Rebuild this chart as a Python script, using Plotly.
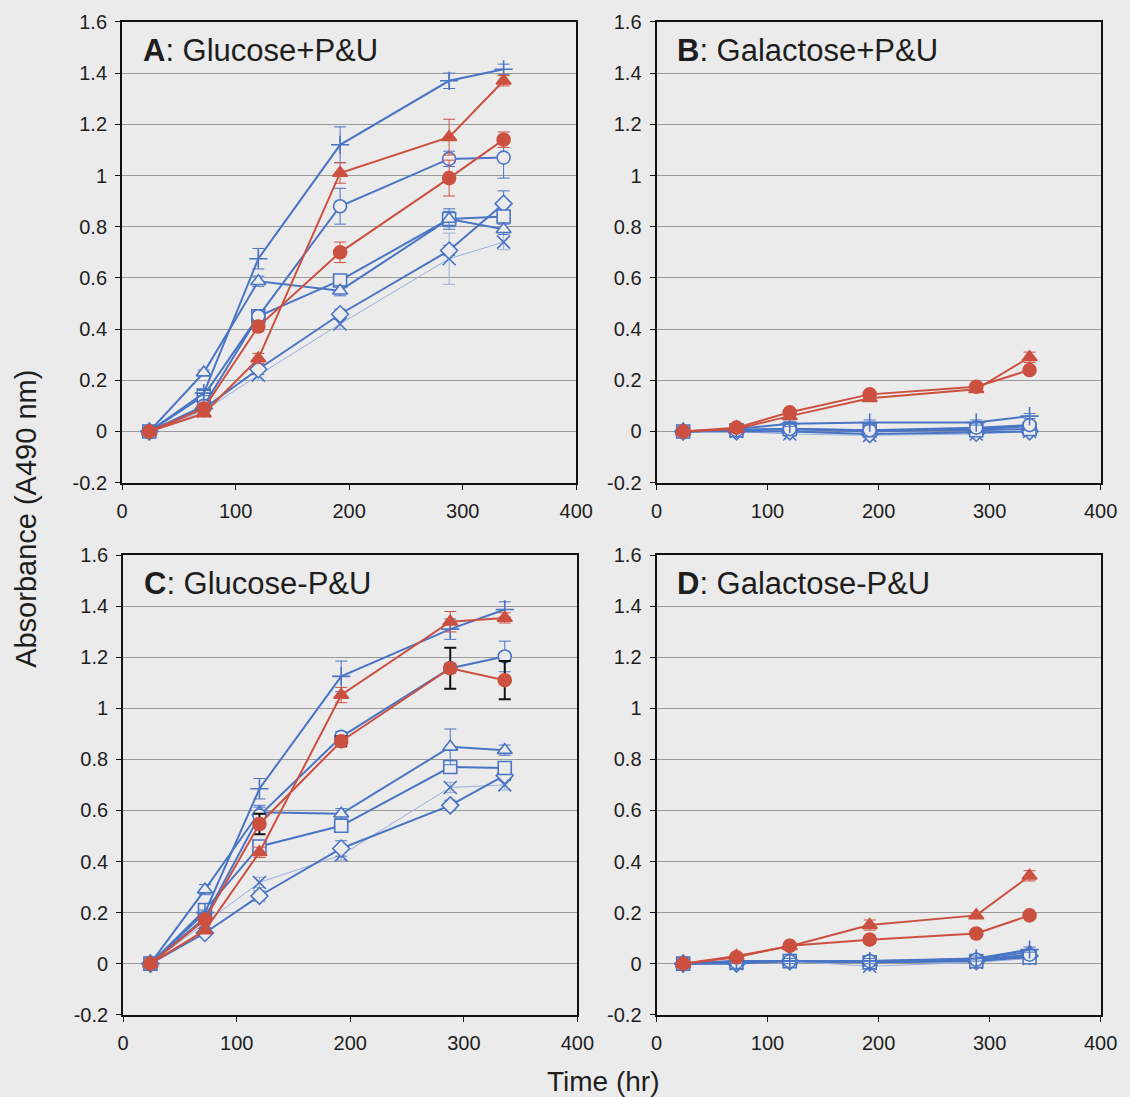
import plotly.graph_objects as go

# sampling times (hr)
time_hr = [24, 72, 120, 192, 288, 336]

# ---- A: Glucose+P&U
a_cross = [0, 0.15, 0.675, 1.12, 1.37, 1.415]
a_circle = [0, 0.10, 0.45, 0.88, 1.065, 1.07]
a_triangle = [0, 0.23, 0.587, 0.55, 0.83, 0.79]
a_square = [0, 0.14, 0.45, 0.59, 0.83, 0.84]
a_diamond = [0, 0.09, 0.243, 0.458, 0.707, 0.89]
a_x = [0, 0.08, 0.22, 0.42, 0.675, 0.74]
a_red_tri = [0, 0.07, 0.285, 1.01, 1.15, 1.37]
a_red_circle = [0, 0.09, 0.41, 0.70, 0.99, 1.14]

a_cross_err = [0, 0.01, 0.04, 0.07, 0.03, 0.02]
a_circle_err = [0, 0.01, 0.02, 0.07, 0.03, 0.08]
a_triangle_err = [0, 0.01, 0.02, 0.02, 0.04, 0.02]
a_square_err = [0, 0.01, 0.02, 0.02, 0.03, 0.02]
a_diamond_err = [0, 0.01, 0.02, 0.02, 0.02, 0.05]
a_x_err = [0, 0.01, 0.02, 0.02, 0.10, 0.03]
a_red_tri_err = [0, 0.01, 0.02, 0.04, 0.07, 0.02]
a_red_circle_err = [0, 0.01, 0.02, 0.04, 0.07, 0.03]

# ---- B: Galactose+P&U
b_cross = [0, 0.01, 0.03, 0.035, 0.035, 0.06]
b_circle = [0, 0.005, 0.01, 0.005, 0.015, 0.025]
b_triangle = [0, 0.005, 0.01, 0.0, 0.01, 0.02]
b_square = [0, 0.005, 0.01, 0.005, 0.005, 0.01]
b_diamond = [0, 0.0, 0.0, -0.01, -0.005, 0.0]
b_x = [0, 0.0, -0.01, -0.015, -0.01, 0.0]
b_red_tri = [0, 0.01, 0.06, 0.13, 0.165, 0.29]
b_red_circle = [0, 0.015, 0.075, 0.145, 0.175, 0.24]

b_err = [0, 0.01, 0.01, 0.01, 0.01, 0.01]
b_red_tri_err = [0, 0.01, 0.01, 0.01, 0.01, 0.02]

# ---- C: Glucose-P&U
c_cross = [0, 0.20, 0.685, 1.125, 1.31, 1.387]
c_circle = [0, 0.18, 0.58, 0.888, 1.157, 1.203]
c_triangle = [0, 0.29, 0.593, 0.587, 0.849, 0.836]
c_square = [0, 0.21, 0.459, 0.54, 0.77, 0.766]
c_diamond = [0, 0.12, 0.265, 0.451, 0.62, 0.737]
c_x = [0, 0.16, 0.318, 0.425, 0.69, 0.70]
c_red_tri = [0, 0.13, 0.436, 1.052, 1.339, 1.354]
c_red_circle = [0, 0.173, 0.547, 0.871, 1.157, 1.11]

c_cross_err = [0, 0.01, 0.04, 0.06, 0.04, 0.03]
c_circle_err = [0, 0.01, 0.04, 0.02, 0.02, 0.06]
c_triangle_err = [0, 0.02, 0.02, 0.02, 0.07, 0.02]
c_square_err = [0, 0.02, 0.02, 0.02, 0.02, 0.02]
c_diamond_err = [0, 0.01, 0.02, 0.03, 0.02, 0.02]
c_x_err = [0, 0.01, 0.02, 0.02, 0.02, 0.02]
c_red_tri_err = [0, 0.01, 0.02, 0.03, 0.04, 0.02]
c_red_circle_err = [0, 0.01, 0.04, 0.02, 0.08, 0.075]

# ---- D: Galactose-P&U
d_cross = [0, 0.01, 0.01, 0.01, 0.02, 0.055]
d_circle = [0, 0.005, 0.01, 0.01, 0.015, 0.035]
d_triangle = [0, 0.01, 0.01, 0.005, 0.02, 0.045]
d_square = [0, 0.005, 0.01, 0.005, 0.01, 0.025]
d_diamond = [0, 0.0, 0.01, 0.005, 0.01, 0.03]
d_x = [0, 0.0, 0.01, -0.01, 0.005, 0.02]
d_red_tri = [0, 0.03, 0.068, 0.151, 0.189, 0.344]
d_red_circle = [0, 0.025, 0.07, 0.094, 0.118, 0.189]

d_err = [0, 0.01, 0.01, 0.01, 0.01, 0.01]
d_red_tri_err = [0, 0.01, 0.01, 0.02, 0.01, 0.02]
d_red_circle_err = [0, 0.01, 0.01, 0.015, 0.01, 0.01]

panel_titles = ['<b>A</b>: Glucose+P&U', '<b>B</b>: Galactose+P&U',
                '<b>C</b>: Glucose-P&U', '<b>D</b>: Galactose-P&U']

x_ticks = [0, 100, 200, 300, 400]
y_ticks = [-0.2, 0, 0.2, 0.4, 0.6, 0.8, 1, 1.2, 1.4, 1.6]
y_ticktext = ['-0.2', '0', '0.2', '0.4', '0.6', '0.8', '1', '1.2', '1.4', '1.6']

BLUE = '#4a74c4'
RED = '#cc5040'
BG = '#ebebeb'

# series style: symbol, line colour, line width, marker fill
styles = {
    'x':        dict(symbol='x-thin-open', line='#9ab0dc', lw=1, fill=BLUE),
    'diamond':  dict(symbol='diamond', line=BLUE, lw=2, fill=BG),
    'square':   dict(symbol='square', line=BLUE, lw=2, fill=BG),
    'triangle': dict(symbol='triangle-up', line=BLUE, lw=2, fill=BG),
    'circle':   dict(symbol='circle', line=BLUE, lw=2, fill=BG),
    'cross':    dict(symbol='cross-thin-open', line=BLUE, lw=2, fill=BLUE),
    'red_circle': dict(symbol='circle', line=RED, lw=2, fill=RED),
    'red_tri':  dict(symbol='triangle-up', line=RED, lw=2, fill=RED),
}

panels = [
    dict(x=a_x, diamond=a_diamond, square=a_square, triangle=a_triangle, circle=a_circle,
         cross=a_cross, red_circle=a_red_circle, red_tri=a_red_tri),
    dict(x=b_x, diamond=b_diamond, square=b_square, triangle=b_triangle, circle=b_circle,
         cross=b_cross, red_circle=b_red_circle, red_tri=b_red_tri),
    dict(x=c_x, diamond=c_diamond, square=c_square, triangle=c_triangle, circle=c_circle,
         cross=c_cross, red_circle=c_red_circle, red_tri=c_red_tri),
    dict(x=d_x, diamond=d_diamond, square=d_square, triangle=d_triangle, circle=d_circle,
         cross=d_cross, red_circle=d_red_circle, red_tri=d_red_tri),
]
errors = [
    dict(x=a_x_err, diamond=a_diamond_err, square=a_square_err, triangle=a_triangle_err,
         circle=a_circle_err, cross=a_cross_err, red_circle=a_red_circle_err, red_tri=a_red_tri_err),
    dict(x=b_err, diamond=b_err, square=b_err, triangle=b_err, circle=b_err,
         cross=b_err, red_circle=b_err, red_tri=b_red_tri_err),
    dict(x=c_x_err, diamond=c_diamond_err, square=c_square_err, triangle=c_triangle_err,
         circle=c_circle_err, cross=c_cross_err, red_circle=c_red_circle_err, red_tri=c_red_tri_err),
    dict(x=d_err, diamond=d_err, square=d_err, triangle=d_err, circle=d_err,
         cross=d_err, red_circle=d_red_circle_err, red_tri=d_red_tri_err),
]

# plot-area positions in paper coords (x0, x1, y0, y1)
domains = [
    (0.108, 0.510, 0.560, 0.980),
    (0.581, 0.974, 0.560, 0.980),
    (0.109, 0.511, 0.075, 0.494),
    (0.581, 0.974, 0.075, 0.494),
]

fig = go.Figure()
layout = {}
for i, (series, errs) in enumerate(zip(panels, errors)):
    n = '' if i == 0 else str(i + 1)
    for key, vals in series.items():
        st = styles[key]
        # the red-circle bars in panel C are black and heavier
        ecol = '#111111' if (i == 2 and key == 'red_circle') else st['line']
        ethick = 2 if ecol == '#111111' else 1
        fig.add_trace(go.Scatter(
            x=time_hr, y=vals, xaxis='x' + n, yaxis='y' + n,
            mode='lines+markers', showlegend=False,
            line=dict(color=st['line'], width=st['lw']),
            marker=dict(symbol=st['symbol'], size=13, color=st['fill'],
                        line=dict(color=BLUE if key in ('x', 'cross') else st['line'], width=1.6)),
            error_y=dict(type='data', array=errs[key], color=ecol,
                         thickness=ethick, width=6),
        ))
    x0, x1, y0, y1 = domains[i]
    layout['xaxis' + n] = dict(
        domain=[x0, x1], anchor='y' + n, range=[0, 400], tickvals=x_ticks,
        automargin=False,
        showgrid=False, zeroline=False, showline=True, mirror=True, linecolor='#111',
        linewidth=2, ticks='outside', ticklen=5, tickcolor='#111',
        ticklabelstandoff=4, tickfont=dict(size=20, color='#1e1e1e'))
    layout['yaxis' + n] = dict(
        domain=[y0, y1], anchor='x' + n, range=[-0.2, 1.6],
        tickvals=y_ticks, ticktext=y_ticktext, automargin=False,
        showgrid=True, gridcolor='#9a9a9a', gridwidth=1, zeroline=False,
        showline=True, mirror=True, linecolor='#111', linewidth=2,
        ticks='outside', ticklen=5, tickcolor='#111',
        ticklabelstandoff=4, tickfont=dict(size=20, color='#1e1e1e'))

annotations = []
for i, title in enumerate(panel_titles):
    n = '' if i == 0 else str(i + 1)
    annotations.append(dict(
        text=title, xref='x' + n + ' domain', yref='y' + n + ' domain',
        x=0.042, y=0.938, xanchor='left', yanchor='middle', showarrow=False,
        font=dict(size=31, color='#1e1e1e')))
annotations.append(dict(text='Absorbance (A490 nm)', xref='paper', yref='paper',
                        x=0.023, y=0.527, xanchor='center', yanchor='middle',
                        textangle=-90, showarrow=False,
                        font=dict(size=29, color='#1e1e1e')))
annotations.append(dict(text='Time (hr)', xref='paper', yref='paper',
                        x=0.534, y=0.0137, xanchor='center', yanchor='middle',
                        showarrow=False, font=dict(size=28, color='#1e1e1e')))

fig.update_layout(
    width=1130, height=1097, margin=dict(l=0, r=0, t=0, b=0),
    paper_bgcolor=BG, plot_bgcolor=BG,
    font=dict(family='Liberation Sans, Arial, sans-serif'),
    annotations=annotations, **layout)

page_fix = ("document.documentElement.style.overflow='hidden';"
            "document.body.style.margin='0';document.body.style.overflow='hidden';")
fig.write_html("out.html", config={'displayModeBar': False}, post_script=page_fix)
